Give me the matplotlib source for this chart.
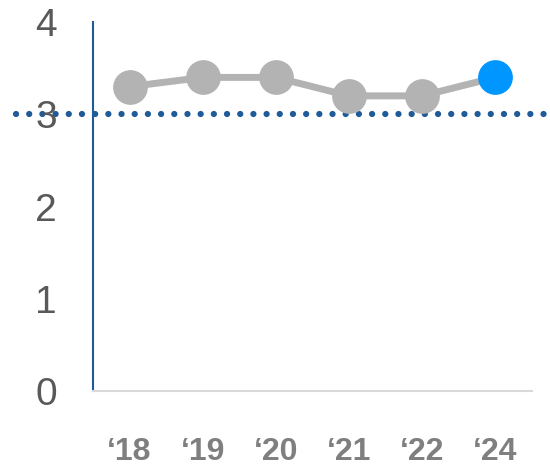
import matplotlib.pyplot as plt

plt.rcParams['font.family'] = ['Liberation Sans', 'DejaVu Sans']

# Data
years = ['\u201818', '\u201819', '\u201820', '\u201821', '\u201822', '\u201824']
scores = [3.3, 3.4, 3.4, 3.2, 3.2, 3.4]
benchmark = 3.0
y_ticks = [0, 1, 2, 3, 4]

fig = plt.figure(figsize=(5.5, 4.69), dpi=100)
ax = fig.add_axes([0.169, 0.166, 0.798, 0.787])

x = list(range(len(years)))

# Benchmark dotted line extends beyond the axes
ax.axhline(benchmark, xmin=-0.175, xmax=1.05, color='#1f5a99', linewidth=4.5,
           linestyle=(0, (0.01, 2.1)), dash_capstyle='round', clip_on=False, zorder=1)

# Trend line
ax.plot(x, scores, color='#b3b3b3', linewidth=5, zorder=2)
ax.plot(x[:-1], scores[:-1], 'o', color='#b3b3b3', markersize=24, zorder=3)
ax.plot(x[-1:], scores[-1:], 'o', color='#0096ff', markersize=24, zorder=3)

ax.set_xlim(-0.5, len(years) - 0.5)
ax.set_ylim(0, 4)
ax.set_yticks(y_ticks)
ax.set_xticks(x)
ax.set_xticklabels(years, fontsize=23, fontweight='bold', color='#7f7f7f')
ax.tick_params(axis='y', length=0, labelsize=28, labelcolor='#595959', pad=26)
ax.tick_params(axis='x', length=0, pad=33)

for side in ['top', 'right']:
    ax.spines[side].set_visible(False)
ax.spines['left'].set_color('#1f5a99')
ax.spines['left'].set_linewidth(1.5)
ax.spines['bottom'].set_color('#d9d9d9')
ax.spines['bottom'].set_linewidth(1.5)

fig.savefig('out.png', dpi=100)
